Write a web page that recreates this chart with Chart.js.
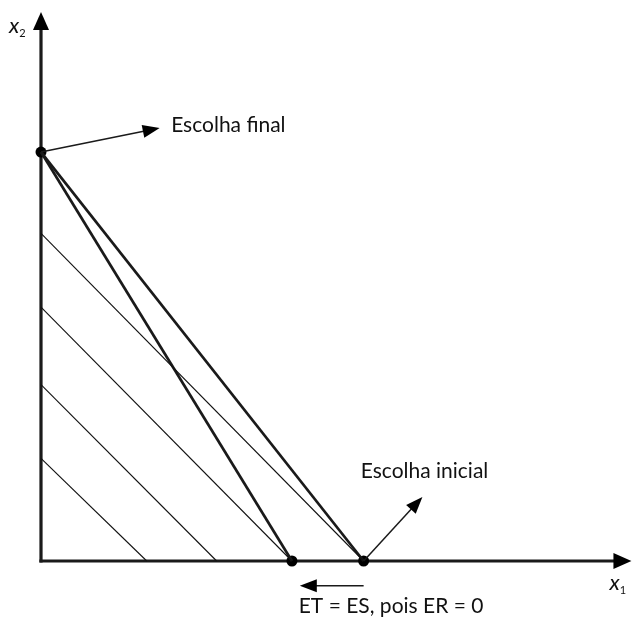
<!DOCTYPE html>
<html>
<head>
<meta charset="utf-8">
<script src="https://cdn.jsdelivr.net/npm/chart.js@4"></script>
<style>
  html, body { margin: 0; padding: 0; background: #fff; }
  #wrap { width: 632px; height: 620px; position: relative; }
</style>
</head>
<body>
<div id="wrap"><canvas id="chart"></canvas></div>
<script>
// hatched lines: start on the x2 axis, end on the x1 axis
const hatchStartY = [2.85, 4.9, 7.05, 9.1];
const hatchEndX = [2.95, 4.9, 7.0, 9.0];

// budget lines: both start at the final choice on the x2 axis
const finalChoiceY = 11.36;
const budgetEndX = [7, 9];

// marked points
const choicePoints = [
    { x: 0, y: finalChoiceY },
    { x: 7, y: 0 },
    { x: 9, y: 0 }
];

// annotations (text, anchor in data units)
const notes = [
    { text: "Escolha final", x: 3.63, y: 11.93 },
    { text: "Escolha inicial", x: 8.92, y: 2.31 },
    { text: "ET = ES, pois ER = 0", x: 7.19, y: -1.44 }
];
// arrows: from -> to
const arrows = [
    { from: [0, finalChoiceY], to: [3.31, 12.03] },
    { from: [9, 0], to: [10.64, 1.78] },
    { from: [9.0, -0.69], to: [7.22, -0.69] }
];

const ink = "#1a1a1a";

let datasets = [];
hatchStartY.forEach((y0, i) => {
    datasets.push({
        data: [{ x: 0, y: y0 }, { x: hatchEndX[i], y: 0 }],
        showLine: true,
        borderColor: "#111",
        borderWidth: 1.1,
        pointRadius: 0,
        clip: false
    });
});
budgetEndX.forEach(xe => {
    datasets.push({
        data: [{ x: 0, y: finalChoiceY }, { x: xe, y: 0 }],
        showLine: true,
        borderColor: ink,
        borderWidth: 2.7,
        pointRadius: 0,
        clip: false
    });
});
datasets.push({
    data: choicePoints,
    showLine: false,
    pointRadius: 5.5,
    pointBackgroundColor: "#000",
    pointBorderWidth: 0,
    clip: false
});

function arrowHead(ctx, x1, y1, x2, y2, len, half) {
    const a = Math.atan2(y2 - y1, x2 - x1);
    ctx.beginPath();
    ctx.moveTo(x2, y2);
    ctx.lineTo(x2 - len * Math.cos(a) + half * Math.sin(a), y2 - len * Math.sin(a) - half * Math.cos(a));
    ctx.lineTo(x2 - len * Math.cos(a) - half * Math.sin(a), y2 - len * Math.sin(a) + half * Math.cos(a));
    ctx.closePath();
    ctx.fill();
}

function line(ctx, x1, y1, x2, y2, w) {
    ctx.lineWidth = w;
    ctx.beginPath();
    ctx.moveTo(x1, y1);
    ctx.lineTo(x2, y2);
    ctx.stroke();
}

const drawing = {
    id: "drawing",
    beforeDatasetsDraw(chart) {
        const ctx = chart.ctx;
        const xs = chart.scales.x, ys = chart.scales.y;
        const ox = xs.getPixelForValue(0), oy = ys.getPixelForValue(0);
        const xEnd = xs.getPixelForValue(16.47), yEnd = ys.getPixelForValue(15.25);
        ctx.save();
        ctx.strokeStyle = ink;
        ctx.fillStyle = "#000";
        // axes
        line(ctx, ox, oy + 1.6, ox, yEnd + 10, 3.2);
        line(ctx, ox - 1.6, oy, xEnd - 10, oy, 3.2);
        arrowHead(ctx, ox, oy, ox, yEnd, 18, 8);
        arrowHead(ctx, ox, oy, xEnd, oy, 18, 8);
        ctx.restore();
    },
    afterDraw(chart) {
        const ctx = chart.ctx;
        const xs = chart.scales.x, ys = chart.scales.y;
        ctx.save();
        ctx.strokeStyle = ink;
        ctx.fillStyle = "#000";
        arrows.forEach(a => {
            const x1 = xs.getPixelForValue(a.from[0]), y1 = ys.getPixelForValue(a.from[1]);
            const x2 = xs.getPixelForValue(a.to[0]), y2 = ys.getPixelForValue(a.to[1]);
            const ang = Math.atan2(y2 - y1, x2 - x1);
            line(ctx, x1, y1, x2 - 10 * Math.cos(ang), y2 - 10 * Math.sin(ang), 1.5);
            arrowHead(ctx, x1, y1, x2, y2, 17, 6.5);
        });
        ctx.fillStyle = "#111";
        ctx.textBaseline = "alphabetic";
        ctx.font = "21px Lato";
        notes.forEach(n => {
            ctx.fillText(n.text, xs.getPixelForValue(n.x), ys.getPixelForValue(n.y));
        });
        // axis labels
        const axisLabels = [
            { sub: "1", x: 15.86, y: -0.8 },
            { sub: "2", x: -0.89, y: 14.67 }
        ];
        axisLabels.forEach(l => {
            const px = xs.getPixelForValue(l.x), py = ys.getPixelForValue(l.y);
            ctx.font = "italic 22px Lato";
            ctx.fillText("x", px, py);
            const w = ctx.measureText("x").width;
            ctx.font = "11px Lato";
            ctx.fillText(l.sub, px + w, py + 4);
        });
        ctx.restore();
    }
};

new Chart(document.getElementById("chart"), {
    type: "scatter",
    data: { datasets: datasets },
    options: {
        responsive: true,
        maintainAspectRatio: false,
        animation: false,
        layout: { padding: { left: 41, right: 3, top: 12, bottom: 59 } },
        plugins: { legend: { display: false }, tooltip: { enabled: false } },
        scales: {
            x: { type: "linear", min: 0, max: 16.333, display: false },
            y: { type: "linear", min: 0, max: 15.25, display: false }
        }
    },
    plugins: [drawing]
});
</script>
</body>
</html>
